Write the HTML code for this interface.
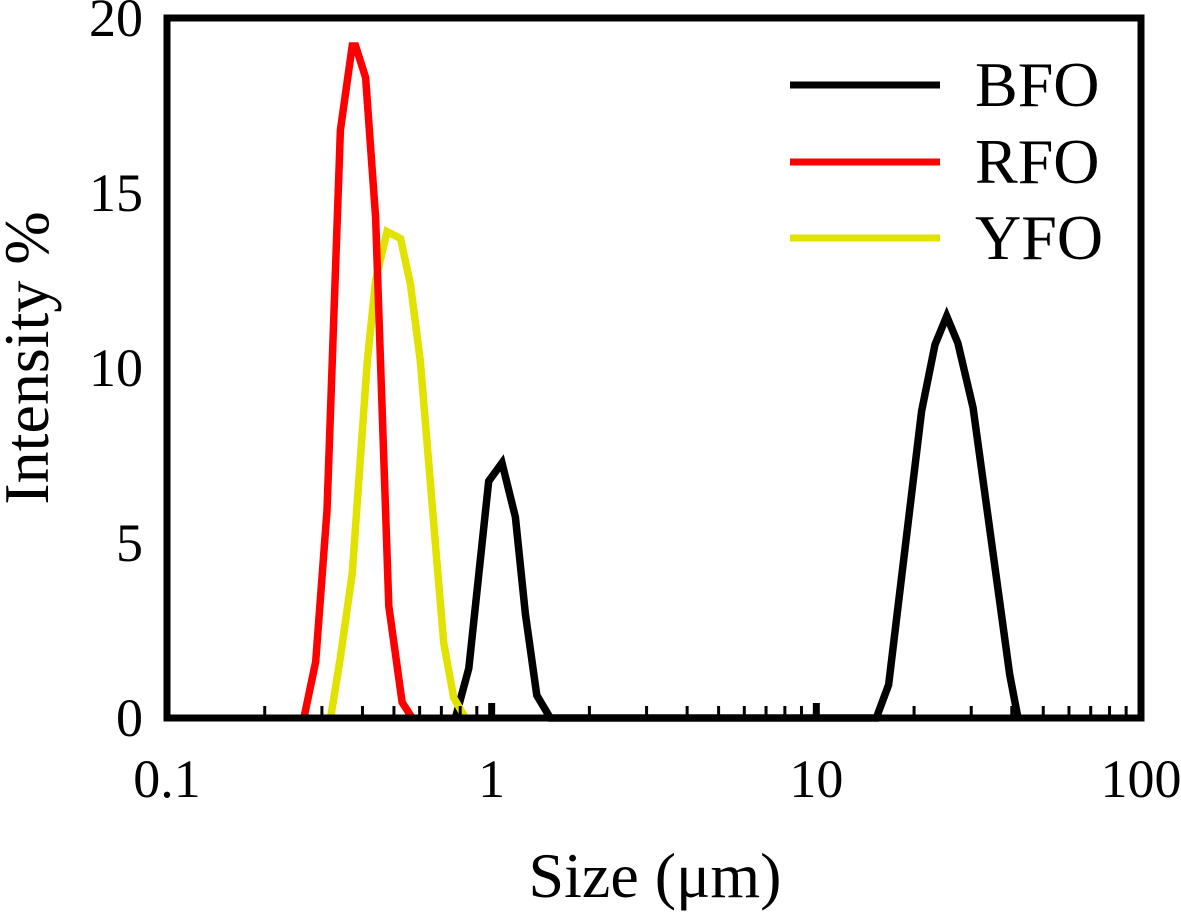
<!DOCTYPE html>
<html><head><meta charset="utf-8"><style>
body{margin:0;background:#fff;}
svg{display:block;font-family:"Liberation Serif",serif;}
</style></head><body>
<svg id="chart" width="1181" height="916" viewBox="0 0 1181 916" xmlns="http://www.w3.org/2000/svg">
<g id="marks"></g>
<g id="axes"></g>
<text transform="translate(48,358) rotate(-90)" text-anchor="middle" font-size="64">Intensity %</text>
<text x="655" y="897" text-anchor="middle" font-size="64">Size (μm)</text>
<g>
<line x1="790" y1="85" x2="940" y2="85" stroke="#000" stroke-width="7"/>
<text x="975" y="106" font-size="64">BFO</text>
<line x1="790" y1="162" x2="940" y2="162" stroke="#ff0000" stroke-width="7"/>
<text x="975" y="183" font-size="64">RFO</text>
<line x1="790" y1="238" x2="940" y2="238" stroke="#e2e200" stroke-width="7"/>
<text x="975" y="259" font-size="64">YFO</text>
</g>
</svg>
<script>
const bfoX = [0.773,0.850,0.979,1.076,1.183,1.270,1.377,1.516,15.3,16.7,21.1,23.2,25.2,27.3,30.4,39.4,41.8];
const bfoY = [0,1.42,6.77,7.29,5.74,2.97,0.65,0,0,0.95,8.77,10.67,11.48,10.71,8.86,1.24,0];
const rfoX = [0.264,0.287,0.311,0.342,0.372,0.381,0.409,0.439,0.482,0.530,0.569];
const rfoY = [0,1.61,5.93,16.8,19.2,19.2,18.3,14.3,3.2,0.45,0];
const yfoX = [0.319,0.342,0.372,0.414,0.439,0.476,0.524,0.562,0.603,0.679,0.712,0.764,0.830];
const yfoY = [0,1.74,4.13,10.2,12.5,13.9,13.7,12.4,10.2,4.39,2.13,0.58,0];
const xTicks = [0.1,1,10,100];
const xTickLabels = ["0.1","1","10","100"];
const yTicks = [0,5,10,15,20];
const yTickLabels = ["0","5","10","15","20"];

const L=167,R=1141,T=18,B=718;
function sx(v){return L+(Math.log10(v)+1)/3*(R-L);}
function sy(v){return B-v/20*(B-T);}
const NS="http://www.w3.org/2000/svg";
const marks=document.getElementById('marks'), axes=document.getElementById('axes');
function mk(tag,attrs,parent){const e=document.createElementNS(NS,tag);for(const k in attrs)e.setAttribute(k,attrs[k]);parent.appendChild(e);return e;}

const series=[["bfo",bfoX,bfoY,"#000"],["yfo",yfoX,yfoY,"#e2e200"],["rfo",rfoX,rfoY,"#ff0000"]];
series.forEach(s=>{
  const pts=s[1].map((x,i)=>sx(x).toFixed(1)+","+sy(s[2][i]).toFixed(1)).join(" ");
  const p=mk('polyline',{points:pts,fill:"none",stroke:s[3],"stroke-width":7.5,"stroke-linejoin":"miter"},marks);
  
  
});

const fr=mk('rect',{x:L,y:T,width:R-L,height:B-T,fill:"none",stroke:"#000","stroke-width":7},axes);



for(let d=-1;d<2;d++){
  for(let m=2;m<=9;m++){
    const x=sx(m*Math.pow(10,d));
    const t=mk('line',{x1:x,y1:B,x2:x,y2:B-12,stroke:"#000","stroke-width":3},axes);
    
    
  }
}
xTicks.forEach((v,i)=>{
  const x=sx(v);
  const t=mk('line',{x1:x,y1:B,x2:x,y2:B-15,stroke:"#000","stroke-width":7},axes);
  
  
  const lb=mk('text',{x:x,y:797,"text-anchor":"middle","font-size":54},axes);
  lb.textContent=xTickLabels[i];
  
  
});
yTicks.forEach((v,i)=>{
  const y=sy(v);
  const lb=mk('text',{x:143,y:y+18,"text-anchor":"end","font-size":54},axes);
  lb.textContent=yTickLabels[i];
  
  
});
</script>
</body></html>
